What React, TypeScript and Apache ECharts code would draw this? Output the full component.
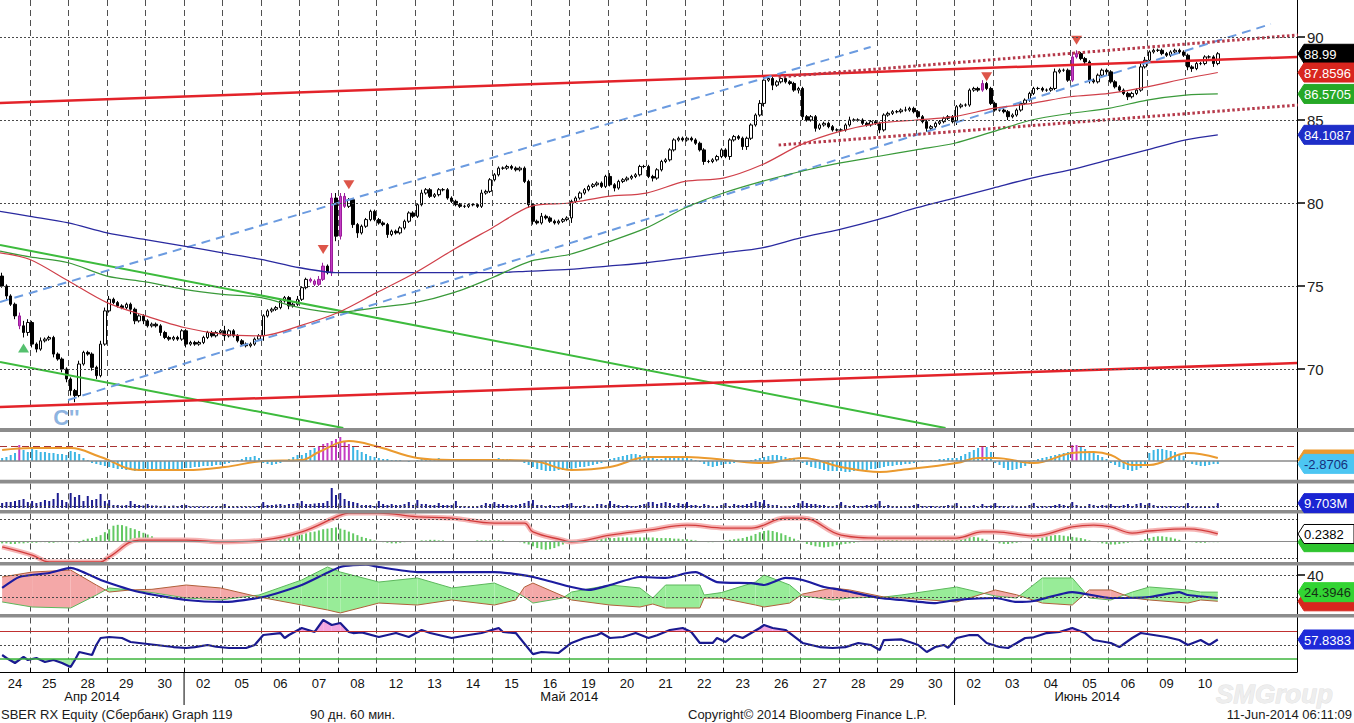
import React, { useEffect, useRef } from "react";
import * as echarts from "echarts";

// ---------------- data ----------------
const days = ["24","25","28","29","30","02","05","06","07","08","12","13","14","15","16","19","20","21","22","23","26","27","28","29","30","02","03","04","05","06","09","10"];
const dayBars = [7, 9,9,9,9,9,9,9,9,9,9, 9,9,9,9,9,9,9,9,9,9, 9,9,9,9,9,9,9,9,9,9, 8];
const months = ["Апр 2014", "Май 2014", "Июнь 2014"];
const monthDayCounts = [5, 20, 7];

const firstOpen = 75.6;
const closes = [
  75.0, 74.4, 73.9, 73.2, 72.6, 72.2, 72.8,
  71.5, 71.2, 71.7, 71.8, 71.9, 70.9, 70.6, 70.0, 69.4,
  68.7, 68.4, 70.3, 71.0, 70.9, 70.1, 69.6, 71.5, 73.5,
  74.2, 74.0, 73.8, 73.7, 73.9, 73.6, 72.9, 73.2, 72.9,
  72.6, 72.7, 72.6, 72.2, 71.9, 71.8, 71.9, 71.8, 72.3,
  71.5, 71.6, 71.5, 71.6, 71.9, 72.2, 72.0, 72.2, 72.3,
  72.0, 72.3, 72.0, 71.7, 71.5, 71.4, 71.5, 71.8, 72.0,
  73.2, 73.5, 73.6, 73.7, 74.1, 74.3, 73.8, 73.9, 74.2,
  74.9, 75.4, 75.3, 75.1, 75.4, 76.2, 75.8, 80.3, 78.0,
  80.4, 79.8, 80.2, 78.7, 78.2, 78.6, 79.0, 79.5, 79.0,
  78.8, 78.7, 78.1, 78.3, 78.2, 78.5, 78.9, 79.4, 79.2,
  79.9, 80.6, 80.8, 80.4, 80.5, 80.8, 80.8, 80.3, 80.1,
  79.9, 79.8, 79.8, 79.9, 79.9, 79.8, 80.6, 80.7, 81.4,
  81.7, 82.1, 82.1, 82.2, 82.1, 82.0, 82.1, 81.3, 79.9,
  78.9, 78.8, 79.2, 79.1, 78.9, 78.8, 78.9, 79.0, 79.1,
  80.1, 80.3, 80.6, 80.8, 81.0, 81.1, 81.2, 81.0, 81.6,
  81.1, 80.9, 81.3, 81.4, 81.5, 81.6, 81.7, 82.2, 82.2,
  81.6, 81.5, 82.0, 82.5, 82.6, 83.2, 83.8, 83.9, 83.8,
  83.9, 83.8, 83.6, 83.2, 82.5, 82.5, 82.6, 82.8, 83.2,
  82.8, 83.8, 84.0, 83.9, 83.4, 83.9, 84.7, 85.3, 86.0,
  87.4, 87.5, 87.1, 87.3, 87.5, 87.3, 87.2, 86.8, 86.9,
  85.2, 85.0, 85.2, 84.5, 84.7, 84.8, 84.6, 84.4, 84.4,
  84.4, 84.7, 85.0, 85.0, 85.0, 84.8, 84.7, 84.9, 84.8,
  84.4, 85.3, 85.4, 85.5, 85.5, 85.6, 85.6, 85.7, 85.5,
  85.2, 84.9, 84.5, 84.6, 84.8, 84.9, 85.1, 85.2, 84.9,
  85.8, 85.9, 85.9, 86.8, 86.9, 86.8, 87.2, 86.9, 86.0,
  85.6, 85.6, 85.5, 85.2, 85.3, 85.6, 86.0, 86.2, 86.6,
  86.9, 86.9, 86.8, 86.8, 86.9, 87.9, 88.0, 88.0, 87.4,
  88.8, 89.0, 88.7, 88.5, 87.4, 87.3, 87.7, 88.0, 87.9,
  87.3, 87.0, 86.8, 86.6, 86.4, 86.6, 86.8, 88.2, 88.6,
  89.1, 89.2, 89.2, 89.0, 88.9, 89.1, 89.2, 89.1, 88.9,
  88.2, 88.1, 88.4, 88.4, 88.8, 88.8, 88.4, 88.99,
];
// wick extensions in tenths
const wickUp = [
  2,1,1,1,2,3,2,
  1,1,2,1,1,1,1,1,1,
  1,1,2,1,1,1,1,2,2,
  2,1,1,1,1,1,1,1,1,
  1,1,1,1,1,1,1,1,1,
  1,1,1,1,1,1,1,1,1,
  3,1,1,1,1,1,1,1,1,
  1,1,1,1,1,1,1,1,2,
  1,1,1,1,2,2,1,3,3,
  2,2,1,1,1,1,1,1,1,
  1,1,1,1,1,1,1,1,1,
  1,2,1,1,1,1,1,1,1,
  1,1,1,1,1,1,2,1,1,
  1,1,1,1,1,1,1,1,1,
  1,1,2,1,1,1,1,1,1,
  1,1,1,1,1,1,1,1,1,
  2,1,1,1,1,1,1,1,1,
  1,1,1,1,1,1,1,1,1,
  1,1,1,1,1,1,1,1,1,
  1,1,1,1,1,1,1,1,2,
  2,1,1,1,1,1,1,1,1,
  1,1,1,1,1,1,1,1,1,
  1,1,2,1,1,1,1,1,1,
  1,1,1,1,1,1,2,1,1,
  1,1,1,1,1,1,1,1,1,
  1,1,1,1,1,1,2,1,1,
  1,1,1,1,1,1,1,1,1,
  1,1,1,1,1,2,1,1,1,
  3,2,1,1,1,1,1,1,1,
  1,1,1,1,1,1,1,2,2,
  1,1,1,1,1,1,1,1,1,
  1,1,1,1,1,1,1,1,
];
const wickDn = [
  1,2,1,2,2,3,2,
  2,2,1,1,1,2,1,2,2,
  3,4,1,1,1,2,2,1,1,
  1,1,1,1,1,3,2,1,2,
  1,1,1,2,1,1,1,1,1,
  2,1,1,1,1,1,1,1,1,
  3,1,1,1,1,1,1,1,1,
  3,1,1,1,1,1,2,1,1,
  1,1,1,1,1,1,1,2,3,
  2,1,1,2,3,1,1,1,1,
  1,1,2,1,1,1,1,1,1,
  1,1,1,1,1,1,1,1,1,
  1,1,1,1,1,1,1,1,1,
  1,1,1,1,1,1,1,1,2,
  2,1,1,1,1,1,1,1,1,
  3,1,1,1,1,1,1,1,1,
  1,2,1,1,1,1,1,1,1,
  1,2,1,1,1,1,1,1,1,
  1,1,1,1,2,1,1,1,1,
  1,2,1,1,2,2,1,1,1,
  2,1,3,1,1,1,1,1,2,
  2,1,1,2,1,1,1,1,1,
  1,1,1,1,1,1,1,1,1,
  2,1,1,1,1,1,1,1,1,
  1,1,2,1,1,1,1,1,1,
  2,1,1,1,1,1,1,1,1,
  1,1,1,2,1,1,1,1,1,
  1,1,1,1,1,1,1,1,1,
  1,1,1,2,2,1,1,1,2,
  1,1,1,1,2,1,1,1,1,
  1,1,1,1,1,1,1,1,1,
  2,2,1,1,1,1,2,1,
];
const magentaBars = [4, 72, 73, 74, 75, 77, 79, 80, 229, 250, 251];

// moving averages at day boundaries (+ last bar)
const redMA = [77.0, 76.6, 75.3, 74.0, 73.2, 72.5, 72.1, 72.0, 72.6, 73.4, 74.6, 75.8, 77.2, 78.5, 79.8, 80.0, 80.4, 80.6, 81.3, 81.5, 82.3, 83.5, 84.3, 84.8, 85.0, 85.2, 85.7, 86.0, 86.4, 86.6, 87.0, 87.5, 87.86];
const greenMA = [77.1, 76.75, 76.4, 75.6, 75.25, 74.8, 74.5, 74.3, 73.7, 73.4, 73.7, 74.0, 74.6, 75.5, 76.5, 76.9, 77.65, 78.5, 79.7, 80.6, 81.3, 81.9, 82.4, 82.8, 83.2, 83.6, 84.3, 85.0, 85.4, 85.7, 86.2, 86.5, 86.57];
const blueMA = [79.5, 79.2, 78.8, 78.2, 77.8, 77.4, 77.0, 76.6, 76.1, 75.8, 75.8, 75.8, 75.8, 75.8, 75.9, 76.0, 76.2, 76.4, 76.7, 77.0, 77.3, 77.9, 78.4, 79.0, 79.7, 80.3, 80.9, 81.5, 82.0, 82.6, 83.2, 83.8, 84.11];

// trend lines [barIndex, price]
const trendRedUpper = [[-0.5, 86.02], [302.5, 88.8]];
const trendRedLower = [[-0.5, 67.71], [302.5, 70.36]];
const trendBlueUpper = [[-0.5, 74.04], [202.9, 89.4]];
const trendBlueLower = [[15.4, 68.13], [296.4, 90.78]];
const trendGreenUpper = [[-0.5, 77.47], [220.4, 66.45]];
const trendGreenLower = [[-0.5, 70.42], [79.7, 66.45]];
const trendDotUpper = [[181.4, 87.59], [302.7, 90.12]];
const trendDotLower = [[181.4, 83.49], [302.7, 85.9]];

const signalsDown = [[75, 77.2], [81, 81.1], [230, 87.6], [251, 89.8]];
const signalsUp = [[5, 71.27]];
const waveLabel = [[15, 67.05]];
const priceTicks = [70, 75, 80, 85, 90];

// panel 1: histogram and signal line
const macdHist = [
  3,4,6,8,16,11,9,
  12,11,9,9,8,8,7,7,6,
  10,9,7,3,1,-2,-3,-4,-5,
  -6,-7,-8,-8,-9,-9,-10,-10,-10,
  -10,-10,-9,-9,-9,-8,-8,-8,-8,
  -7,-7,-6,-6,-5,-5,-5,-4,-4,
  -3,-2,-1,1,2,4,4,5,3,
  -2,-3,-4,-3,-2,1,2,4,6,
  6,8,11,13,15,17,18,20,22,
  24,20,17,14,11,9,7,5,4,
  3,2,2,1,1,1,0,-1,0,
  1,2,2,2,2,3,2,2,1,
  1,1,1,1,0,0,1,1,2,
  2,3,2,2,1,1,0,-2,-4,
  -6,-8,-9,-10,-10,-10,-9,-9,-8,
  -8,-7,-6,-6,-5,-4,-3,-2,-1,
  2,3,4,5,6,7,7,6,5,
  4,3,2,2,3,4,5,5,4,
  3,2,1,-1,-3,-5,-6,-5,-4,
  -3,-3,-2,-1,0,0,1,2,3,
  4,5,6,6,5,4,3,2,1,
  -2,-4,-6,-7,-8,-9,-10,-10,-10,
  -10,-11,-11,-10,-10,-9,-9,-8,-8,
  -7,-6,-5,-5,-4,-4,-3,-3,-2,
  -1,-1,0,1,1,2,2,3,3,
  3,5,7,9,11,13,15,14,9,
  -2,-4,-7,-9,-9,-8,-7,-5,-3,
  1,2,3,4,5,6,7,8,9,
  16,16,14,12,10,8,6,4,2,
  -2,-4,-6,-8,-9,-10,-9,-7,-4,
  8,11,12,12,11,10,9,7,5,
  -1,-3,-4,-5,-5,-4,-3,-3,
];
const signalIdx = [0,7,16,23,32,43,52,61,70,74,81,88,97,105,115,124,133,142,151,160,169,178,187,196,205,210,223,228,232,241,250,255,259,264,268,277,284];
const signalVal = [11,13,13,4,-9,-9,-6,0,1,9,20,14,3,1,1,0,-9,-6,4,4,1,-2,3,-6,-11,-9,-2,3,3,-2,8,9,6,-4,-4,8,3];

// panel 2: volume (millions)
const volume = [
  10,12,12,14,16,18,12,
  14,10,12,16,14,18,30,16,12,
  30,22,26,14,24,16,18,28,14,
  16,6,6,5,6,14,8,6,5,
  8,5,5,4,5,4,5,4,6,
  6,3,3,3,3,3,3,3,4,
  8,3,3,3,3,3,3,3,4,
  12,6,6,7,8,6,8,8,10,
  14,8,8,9,10,10,14,40,26,
  30,18,14,12,10,6,6,6,4,
  14,8,6,8,6,6,8,12,6,
  16,8,8,6,6,10,6,6,6,
  14,4,4,3,4,4,6,10,8,
  12,8,8,6,6,6,8,10,14,
  16,6,6,4,6,4,4,6,8,
  10,4,4,6,4,4,8,8,6,
  14,8,6,4,6,4,4,6,8,
  12,12,8,10,12,10,6,10,8,
  12,6,6,4,8,6,4,4,6,
  10,4,8,6,6,8,10,14,12,
  16,8,6,6,4,4,4,6,10,
  14,10,8,8,6,6,4,4,6,
  12,6,4,6,4,4,6,6,8,
  14,4,6,4,4,4,4,4,6,
  8,4,3,4,3,3,4,6,5,
  10,4,3,4,6,3,8,4,5,
  10,4,4,3,5,4,3,4,6,
  10,3,4,3,4,6,8,6,4,
  12,6,4,4,8,6,4,6,5,
  8,4,4,6,8,4,8,10,6,
  10,6,4,4,3,4,3,3,4,
  10,3,3,3,4,3,4,9.703,
];

// panel 3: oscillator histogram (hundredths) and line
const oscHistPct = [
  -8,-8,-10,-10,-8,-8,-6,
  -6,-6,-4,-4,-6,-6,-4,-4,-4,
  -4,-4,-6,4,8,10,14,20,30,
  40,52,55,54,50,44,40,34,28,
  22,16,10,6,4,2,2,0,0,
  0,0,2,2,0,0,0,2,2,
  2,2,0,0,0,0,2,2,2,
  4,6,8,10,12,14,16,18,20,
  22,26,30,32,36,40,42,44,46,
  42,38,32,26,20,14,10,6,2,
  -2,-4,-6,-8,-8,-6,-4,-2,0,
  0,2,2,4,4,2,2,0,0,
  0,0,0,0,0,2,2,2,2,
  2,2,2,0,0,-2,-4,-8,-12,
  -18,-24,-28,-30,-28,-24,-18,-12,-6,
  -2,2,4,6,8,10,10,10,10,
  10,10,12,12,12,12,12,12,12,
  12,12,10,10,10,10,8,8,6,
  6,4,2,0,-2,-4,-4,-2,0,
  2,4,6,8,10,14,18,24,30,
  34,36,34,30,26,20,14,8,2,
  -4,-10,-14,-18,-20,-22,-20,-18,-14,
  -12,-10,-8,-6,-4,-2,0,0,2,
  2,4,4,4,4,2,2,2,2,
  2,2,2,2,4,6,8,10,12,
  12,14,16,16,14,12,8,4,0,
  -4,-8,-10,-10,-8,-6,-4,-2,0,
  4,8,12,16,18,20,20,18,16,
  14,12,10,6,2,0,-4,-8,-10,
  -12,-12,-10,-8,-6,-4,-2,2,6,
  10,14,16,16,14,12,8,4,0,
  -2,-4,-6,-6,-6,-4,-4,-4,
];
const oscIdx = [0,7,11,23,25,32,43,52,61,70,79,81,88,97,105,115,122,124,131,133,142,151,160,169,175,183,187,196,205,223,229,232,241,250,255,259,264,268,277,284];
const oscVal = [-0.2,-0.48,-0.71,-0.71,-0.54,0.03,0.03,-0.03,0.03,0.31,0.88,0.95,0.95,0.82,0.78,0.61,0.61,0.31,0.03,-0.03,0.2,0.37,0.54,0.44,0.44,0.78,0.78,0.2,0.1,0.1,0.31,0.31,0.17,0.48,0.54,0.48,0.27,0.34,0.41,0.24];

// panel 4: DMI / ADX
const dmiIdx = [0,7,16,22,25,30,35,43,51,60,70,76,79,88,97,105,115,120,122,124,131,133,142,149,152,155,163,164,168,176,178,184,187,194,198,206,210,223,232,237,243,250,254,259,264,268,277,280,284];
const diPlus = [15.5,10.9,10,21.8,28.2,26.4,24,19.1,17.3,21.8,35.5,47.3,42.7,33.6,37.3,28.2,32.7,24.5,20,14.5,19.1,24.5,30.9,28.2,19.1,30.9,30.9,21.8,24,33.6,40,30.9,20.9,17.3,19.1,20,21.8,29.1,20.9,19,37.3,37.3,19.1,17.3,24.5,29.1,26.4,24.5,24.4];
const diMinus = [38.2,42.7,44.5,30.9,24.5,26.4,27,30.9,28.2,20,12.7,8.2,5.5,14.5,12.7,17.3,12.7,17.3,29,32.7,20.9,17.3,12.7,10.9,13.6,10,10,19.1,19,12.7,10.9,14.5,22.7,28.2,26.4,20,19.1,15.5,26.4,22,14.5,12.7,26.4,26.4,19.1,17.3,14.5,17.3,16.1];
const adxIdx = [0,4,11,16,23,32,43,52,61,70,79,85,88,97,105,115,124,133,137,142,149,155,160,162,167,175,178,183,187,192,196,205,210,218,223,232,237,241,250,259,268,275,277,284];
const adxVal = [28.2,38.2,41.8,46.4,35.5,24.5,17.3,15.5,20,30.9,47.3,49.5,47.3,42.7,42.7,42.7,38.2,29.1,26.4,30.9,38.2,37.3,41.8,42.7,33.6,32.7,30.9,37.3,35.5,29.1,26.4,19.1,17.3,14.5,17.3,19.1,15.5,16.4,24.5,19.1,20,24.5,21.8,19.1];

// panel 5: RSI
const rsiIdx = [0,1,3,5,6,8,10,12,14,16,17,18,21,22,23,25,28,30,32,36,40,43,45,48,50,53,57,59,61,65,66,67,70,73,75,77,79,81,82,84,88,92,95,98,100,102,105,109,112,116,117,120,124,126,130,133,136,139,140,142,145,148,151,153,156,159,161,163,166,167,169,171,173,177,178,180,183,184,187,191,194,197,200,203,205,206,210,212,214,216,218,220,221,223,226,228,230,233,235,239,241,244,247,250,253,255,259,261,264,266,269,272,275,277,280,282,284];
const rsiVal = [35.7,31.4,24.3,32.9,28.6,31.4,25.7,28.6,24.3,18.6,28.6,40,35.7,50,60,61.4,60,54.3,52.9,50,47.1,45.7,47,50,47.5,45.7,45.7,50,64.3,67.1,60,64.3,74.3,68.6,85.7,78.6,81.4,68.6,67.1,68,61.4,67.1,61.4,71.4,67.1,64.3,60,64.3,67.1,74.3,68.6,67.1,37,40,38.6,52.9,60,64.3,67.1,60,61.4,67.1,60,64,71.4,74.3,68.6,52.9,53,60,54.3,64.3,60,74.3,78.6,74.3,71.4,67.1,52.9,47.1,45.7,47,52.9,50,42.9,57.1,58,54.3,50,40,47.1,50,46,60,64.3,64,52.9,47.1,45.7,60,61,67.1,68.6,74.3,67.1,57.1,52.9,47.1,60,67.1,64.3,61.4,57.1,50,57.1,50,57.8];

// right-hand value tags
const tagValues = [88.99, 87.8596, 86.5705, 84.1087, 1.5, -2.8706, 9.703, -0.04, 0.2382, 16.0771, 24.3946, 57.8383];
const tagTexts = ["88.99", "87.8596", "86.5705", "84.1087", "", "-2.8706", "9.703M", "", "0.2382", "", "24.3946", "57.8383"];

const footerLeft = "SBER RX Equity (Сбербанк) Graph 119";
const footerPeriod = "90 дн. 60 мин.";
const footerCopy = "Copyright© 2014 Bloomberg Finance L.P.";
const footerDate = "11-Jun-2014 06:11:09";
const watermark = "SMGroup";

// ---------------- layout & styles ----------------
const W = 1354;
const H = 723;
const GRID_RIGHT = 57;
const AXIS_X = W - GRID_RIGHT;
const FONT = "'Liberation Sans', Arial, sans-serif";
const TAIL = 18;

const panels = [
  { top: 0, height: 428, min: 66.446, max: 92.229 },
  { top: 432, height: 48, min: -19, max: 29 },
  { top: 483.5, height: 26.5, min: -4, max: 49 },
  { top: 513.5, height: 48.5, min: -0.714, max: 0.935 },
  { top: 565.5, height: 48.5, min: 4.545, max: 48.64 },
  { top: 617.5, height: 54.5, min: 11.43, max: 89.29 },
];
const separators = [[428, 4], [479.8, 3.7], [510, 3.5], [562, 3.5], [614, 3.5]];

const tagStyles = [
  { axis: 0, bg: "#000000", fg: "#ffffff" },
  { axis: 0, bg: "#d8261e", fg: "#ffffff" },
  { axis: 0, bg: "#26a826", fg: "#ffffff" },
  { axis: 0, bg: "#1e2ec8", fg: "#ffffff" },
  { axis: 1, bg: "#eb9a2e", fg: "#ffffff" },
  { axis: 1, bg: "#4cc6f2", fg: "#16307c" },
  { axis: 2, bg: "#1a24d2", fg: "#ffffff" },
  { axis: 3, bg: "#2fc42f", fg: "#ffffff" },
  { axis: 3, bg: "#ffffff", fg: "#000000", border: "#000000" },
  { axis: 4, bg: "#d8261e", fg: "#ffffff" },
  { axis: 4, bg: "#33d433", fg: "#153015" },
  { axis: 5, bg: "#1e2ad8", fg: "#ffffff" },
];

// ---------------- derived structures ----------------
const dayStart: number[] = [];
{
  let s = 0;
  dayBars.forEach((n) => { dayStart.push(s); s += n; });
}
const nBars = dayStart[dayStart.length - 1] + dayBars[dayBars.length - 1];
const nSlots = nBars + TAIL;
const cats: string[] = [];
days.forEach((d, i) => {
  for (let j = 0; j < dayBars[i]; j++) cats.push(d + "#" + (dayStart[i] + j));
});
for (let j = nBars; j < nSlots; j++) cats.push("#" + j);
const boundarySet = new Set(dayStart.slice(1));
const labelSet = new Set(dayStart.map((s, i) => s + Math.floor(dayBars[i] / 2)));
const maIdx = [...dayStart.map((s) => s - 0.5), nBars - 1];
const zip = (xs: number[], ys: number[]) => xs.map((x, i) => [x, ys[i]]);

function bandPieces(x0: number, a0: number, b0: number, x1: number, a1: number, b1: number) {
  const d0 = a0 - b0;
  const d1 = a1 - b1;
  if (d0 * d1 >= 0) {
    const s = d0 + d1 >= 0 ? 1 : -1;
    return [{ s, pts: [[x0, a0], [x1, a1], [x1, b1], [x0, b0]] }];
  }
  const t = d0 / (d0 - d1);
  const xc = x0 + t * (x1 - x0);
  const yc = a0 + t * (a1 - a0);
  return [
    { s: d0 > 0 ? 1 : -1, pts: [[x0, a0], [xc, yc], [x0, b0]] },
    { s: d1 > 0 ? 1 : -1, pts: [[xc, yc], [x1, a1], [x1, b1]] },
  ];
}

function refLines(items: any[]) {
  return {
    silent: true,
    symbol: ["none", "none"],
    label: { show: false },
    animation: false,
    data: items.map((it) => ({ yAxis: it.v, lineStyle: it.style })),
  };
}
const dotted = { color: "#4a4a4a", type: [2, 2], width: 1 };

function buildOption() {
  const grid = panels.map((p) => ({ left: 0, right: GRID_RIGHT, top: p.top, height: p.height }));
  const xAxis: any[] = [];
  panels.forEach((p, gi) => {
    const bottom = gi === panels.length - 1;
    xAxis.push({
      type: "category",
      gridIndex: gi,
      data: cats,
      boundaryGap: true,
      axisLine: { show: bottom, onZero: false, lineStyle: { color: "#000", width: 1 } },
      axisTick: { show: bottom, inside: true, length: 4, interval: (i: number) => boundarySet.has(i), lineStyle: { color: "#000" } },
      axisLabel: {
        show: bottom,
        interval: (i: number) => labelSet.has(i),
        formatter: (v: string) => v.split("#")[0],
        color: "#111",
        fontSize: 13,
        fontFamily: FONT,
        margin: 5,
      },
      splitLine: { show: true, interval: (i: number) => boundarySet.has(i), lineStyle: { color: "#505050", type: [6, 4], width: 1 } },
    });
    xAxis.push({ type: "value", gridIndex: gi, min: -0.5, max: nSlots - 0.5, show: false, axisLine: { onZero: false } });
  });
  const yAxis = panels.map((p, gi) => {
    const base: any = {
      type: "value",
      gridIndex: gi,
      position: "right",
      min: p.min,
      max: p.max,
      axisLine: { show: true, onZero: false, lineStyle: { color: "#000", width: 1 } },
      axisTick: { show: false },
      axisLabel: { show: false },
      splitLine: { show: false },
    };
    if (gi === 0) {
      base.axisTick = { show: true, length: 8, customValues: priceTicks, lineStyle: { color: "#000", width: 1.5 } };
      base.axisLabel = { show: true, customValues: priceTicks, color: "#222", fontSize: 15, fontFamily: FONT, margin: 10 };
    }
    if (gi === 4) {
      base.axisTick = { show: true, length: 8, customValues: [40], lineStyle: { color: "#000", width: 1.5 } };
      base.axisLabel = { show: true, customValues: [40], color: "#222", fontSize: 15, fontFamily: FONT, margin: 10 };
    }
    return base;
  });

  const line = (gi: number, data: any[], color: string, width: number, extra: any = {}) => ({
    type: "line",
    xAxisIndex: 2 * gi + 1,
    yAxisIndex: gi,
    data,
    symbol: "none",
    silent: true,
    lineStyle: { color, width, ...(extra.lineStyle || {}) },
    ...extra.rest,
  });

  const candleData = closes.map((c, i) => {
    const o = i === 0 ? firstOpen : closes[i - 1];
    const lo = Math.min(o, c) - wickDn[i] / 10;
    const hi = Math.max(o, c) + wickUp[i] / 10;
    const item: any = { value: [o, c, lo, hi] };
    if (magentaBars.includes(i)) {
      item.itemStyle = { color: "#c43cc4", color0: "#c43cc4", borderColor: "#9a1c9a", borderColor0: "#9a1c9a" };
    }
    return item;
  });

  const dmiSegs: number[][] = [];
  for (let k = 0; k < dmiIdx.length - 1; k++) {
    dmiSegs.push([dmiIdx[k], diPlus[k], diMinus[k], dmiIdx[k + 1], diPlus[k + 1], diMinus[k + 1]]);
  }
  const rsiSegs: number[][] = [];
  for (let k = 0; k < rsiIdx.length - 1; k++) {
    rsiSegs.push([rsiIdx[k], rsiVal[k], rsiIdx[k + 1], rsiVal[k + 1]]);
  }

  const series: any[] = [
    // ---- main panel ----
    line(0, trendGreenUpper, "#3dbb3d", 2, {
      rest: {
        markLine: refLines(priceTicks.map((v) => ({ v, style: dotted }))),
      },
    }),
    line(0, trendGreenLower, "#3dbb3d", 2),
    line(0, trendRedUpper, "#e3232a", 2.5),
    line(0, trendRedLower, "#e3232a", 2.5),
    line(0, trendBlueUpper, "#6b9be0", 2, { lineStyle: { type: [9, 6] } }),
    line(0, trendBlueLower, "#6b9be0", 2, { lineStyle: { type: [9, 6] } }),
    line(0, trendDotUpper, "#b5394a", 3, { lineStyle: { type: [2.5, 2.5] } }),
    line(0, trendDotLower, "#b5394a", 3, { lineStyle: { type: [2.5, 2.5] } }),
    line(0, zip(maIdx, blueMA), "#2a2aa0", 1.3, { rest: { smooth: 0.3 } }),
    line(0, zip(maIdx, greenMA), "#3a9a3a", 1.2, { rest: { smooth: 0.3 } }),
    line(0, zip(maIdx, redMA), "#d0404a", 1.2, { rest: { smooth: 0.3 } }),
    {
      type: "candlestick",
      xAxisIndex: 0,
      yAxisIndex: 0,
      data: candleData,
      barWidth: 3,
      silent: true,
      itemStyle: { color: "#ffffff", color0: "#000000", borderColor: "#000000", borderColor0: "#000000", borderWidth: 1 },
    },
    {
      type: "scatter",
      xAxisIndex: 1,
      yAxisIndex: 0,
      data: signalsDown,
      symbol: "triangle",
      symbolRotate: 180,
      symbolSize: [11, 9],
      silent: true,
      itemStyle: { color: "#d42a1c" },
    },
    {
      type: "scatter",
      xAxisIndex: 1,
      yAxisIndex: 0,
      data: signalsUp,
      symbol: "triangle",
      symbolSize: [11, 9],
      silent: true,
      itemStyle: { color: "#2ab04a" },
    },
    {
      type: "scatter",
      xAxisIndex: 1,
      yAxisIndex: 0,
      data: waveLabel,
      symbolSize: 0,
      silent: true,
      itemStyle: { color: "transparent" },
      label: { show: true, position: "inside", formatter: "C''", color: "#6f9fd8", fontSize: 22, fontWeight: "bold", fontFamily: FONT },
    },
    // ---- panel 1 ----
    {
      type: "bar",
      xAxisIndex: 2,
      yAxisIndex: 1,
      barWidth: 2,
      silent: true,
      data: macdHist.map((v) => ({ value: v, itemStyle: { color: v >= 15 ? "#c43cc4" : "#3cb6e4" } })),
      markLine: refLines([
        { v: 0, style: { color: "#8a8a8a", type: "solid", width: 1.5 } },
        { v: 15, style: { color: "#a83232", type: [7, 4], width: 1 } },
      ]),
    },
    line(1, zip(signalIdx, signalVal), "#eb9a2e", 2, { rest: { smooth: 0.4 } }),
    // ---- panel 2 ----
    {
      type: "bar",
      xAxisIndex: 4,
      yAxisIndex: 2,
      barWidth: 2,
      silent: true,
      data: volume,
      itemStyle: { color: "#1c1c90" },
      markLine: refLines([{ v: 4, style: dotted }]),
    },
    // ---- panel 3 ----
    {
      type: "bar",
      xAxisIndex: 6,
      yAxisIndex: 3,
      barWidth: 2,
      silent: true,
      data: oscHistPct.map((v) => v / 100),
      itemStyle: { color: "#63c963" },
      markLine: refLines([
        { v: 0, style: { color: "#8a8a8a", type: "solid", width: 1.2 } },
        { v: 0.75, style: dotted },
        { v: -0.58, style: dotted },
      ]),
    },
    line(3, zip(oscIdx, oscVal), "#f5b4b4", 5, { rest: { smooth: 0.4 } }),
    line(3, zip(oscIdx, oscVal), "#d23c3c", 1.3, { rest: { smooth: 0.4 } }),
    // ---- panel 4 ----
    {
      type: "custom",
      xAxisIndex: 9,
      yAxisIndex: 4,
      silent: true,
      clip: true,
      data: dmiSegs,
      encode: { x: [0, 3], y: [1, 2, 4, 5] },
      renderItem: (params: any, api: any) => {
        const pieces = bandPieces(api.value(0), api.value(1), api.value(2), api.value(3), api.value(4), api.value(5));
        return {
          type: "group",
          children: pieces.map((p) => ({
            type: "polygon",
            shape: { points: p.pts.map((q) => api.coord(q)) },
            style: { fill: p.s > 0 ? "#98ec98" : "#f4a8a8" },
          })),
        };
      },
      markLine: refLines([
        { v: 40, style: dotted },
        { v: 20, style: dotted },
      ]),
    },
    line(4, zip(dmiIdx, diPlus), "#5cb85c", 1),
    line(4, zip(dmiIdx, diMinus), "#b0603a", 1),
    line(4, zip(adxIdx, adxVal), "#1c1ca0", 2.2, { rest: { smooth: 0.2 } }),
    // ---- panel 5 ----
    {
      type: "custom",
      xAxisIndex: 11,
      yAxisIndex: 5,
      silent: true,
      clip: true,
      data: rsiSegs,
      encode: { x: [0, 2], y: [1, 3] },
      renderItem: (params: any, api: any) => {
        const x0 = api.value(0), r0 = api.value(1), x1 = api.value(2), r1 = api.value(3);
        const up = bandPieces(x0, r0, 70, x1, r1, 70).filter((p) => p.s > 0);
        const dn = bandPieces(x0, r0, 30, x1, r1, 30).filter((p) => p.s < 0);
        const children: any[] = [];
        up.forEach((p) => children.push({ type: "polygon", shape: { points: p.pts.map((q) => api.coord(q)) }, style: { fill: "#f2a6e0" } }));
        dn.forEach((p) => children.push({ type: "polygon", shape: { points: p.pts.map((q) => api.coord(q)) }, style: { fill: "#a6eaa6" } }));
        return { type: "group", children };
      },
      markLine: refLines([
        { v: 70, style: { color: "#c03030", type: "solid", width: 1 } },
        { v: 50, style: dotted },
        { v: 30, style: { color: "#3cb43c", type: "solid", width: 1.5 } },
      ]),
    },
    line(5, zip(rsiIdx, rsiVal), "#1a1a90", 2.2),
  ];

  return {
    animation: false,
    backgroundColor: "#ffffff",
    grid,
    xAxis,
    yAxis,
    series,
  };
}

function buildGraphics(chart: any) {
  const els: any[] = [];
  separators.forEach(([y, h]) => {
    els.push({ type: "rect", shape: { x: 0, y, width: W, height: h }, style: { fill: "#8c8c8c" }, z: 10, silent: true });
  });
  // month labels and separators under the time axis
  const gx = (v: number) => chart.convertToPixel({ xAxisIndex: 11 }, v) as number;
  let d = 0;
  const axisY = panels[5].top + panels[5].height;
  months.forEach((m, mi) => {
    const first = dayStart[d];
    const lastDay = d + monthDayCounts[mi] - 1;
    const last = dayStart[lastDay] + dayBars[lastDay];
    const x0 = gx(first - 0.5);
    const x1 = gx(last - 0.5);
    if (mi > 0) {
      els.push({ type: "line", shape: { x1: x0, y1: axisY, x2: x0, y2: axisY + 33 }, style: { stroke: "#000", lineWidth: 1 }, z: 11, silent: true });
    }
    els.push({
      type: "text",
      x: (x0 + x1) / 2,
      y: 696,
      style: { text: m, fill: "#111", fontSize: 13, fontFamily: FONT, align: "center", verticalAlign: "middle" },
      z: 11,
      silent: true,
    });
    d += monthDayCounts[mi];
  });
  // footer
  els.push({ type: "text", x: W - 138, y: 694, style: { text: watermark, fill: "#eeeeee", stroke: "#e0e0e0", lineWidth: 0.8, fontSize: 26, fontWeight: "bold", fontStyle: "italic", fontFamily: FONT, verticalAlign: "middle" }, z: 5, silent: true });
  const foot = (text: string, x: number, align: string) => ({
    type: "text",
    x,
    y: 714,
    style: { text, fill: "#1a1a1a", fontSize: 13, fontFamily: FONT, align, verticalAlign: "middle" },
    z: 11,
    silent: true,
  });
  els.push(foot(footerLeft, 1, "left"));
  els.push(foot(footerPeriod, 310, "left"));
  els.push(foot(footerCopy, 688, "left"));
  els.push(foot(footerDate, W - 2, "right"));
  // value tags
  tagValues.forEach((v, i) => {
    const st = tagStyles[i];
    const y = chart.convertToPixel({ yAxisIndex: st.axis }, v) as number;
    const h = 9.5;
    els.push({
      type: "polygon",
      shape: { points: [[AXIS_X + 1, y], [AXIS_X + 7, y - h], [W, y - h], [W, y + h], [AXIS_X + 7, y + h]] },
      style: { fill: st.bg, stroke: st.border || st.bg, lineWidth: 1 },
      z: 20 + i * 2,
      silent: true,
    });
    if (tagTexts[i]) {
      els.push({
        type: "text",
        x: AXIS_X + 7,
        y: y + 0.5,
        style: { text: tagTexts[i], fill: st.fg, fontSize: 13, fontFamily: FONT, verticalAlign: "middle", align: "left" },
        z: 21 + i * 2,
        silent: true,
      });
    }
  });
  return els;
}

export default function App() {
  const ref = useRef<HTMLDivElement>(null);
  useEffect(() => {
    if (!ref.current) return;
    const chart = echarts.init(ref.current, null, { renderer: "svg" });
    chart.setOption(buildOption());
    chart.setOption({ graphic: buildGraphics(chart) });
    return () => chart.dispose();
  }, []);
  return <div ref={ref} style={{ position: "fixed", left: 0, top: 0, width: W, height: H, background: "#fff" }} />;
}
